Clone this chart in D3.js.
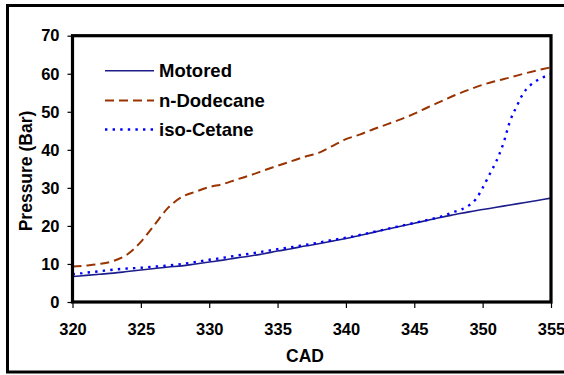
<!DOCTYPE html>
<html>
<head>
<meta charset="utf-8">
<script src="https://cdn.jsdelivr.net/npm/d3@7/dist/d3.min.js"></script>
<style>
  html, body { margin: 0; padding: 0; background: #fff; }
  svg { display: block; }
  text { font-family: "Liberation Sans", Arial, sans-serif; font-weight: bold; fill: #000; }
</style>
</head>
<body>
<svg id="chart" width="564" height="375"></svg>
<script>
// Crank angle (degrees) and cylinder pressure (bar)
const cad = [320,321,322,323,324,325,326,327,328,329,330,331,332,333,334,335,336,337,
             338,339,340,341,342,343,344,345,346,347,348,349,350,351,352,353,354,355];

const motored = [6.7,7.0,7.3,7.6,8.0,8.4,8.8,9.2,9.5,10.0,10.5,11.0,11.6,12.1,12.7,13.4,14.0,14.7,
                 15.3,16.0,16.7,17.5,18.3,19.1,19.9,20.7,21.5,22.3,23.0,23.7,24.3,24.9,25.5,26.1,26.7,27.3];

const nDodecane = [9.3,9.6,10.0,10.8,12.5,15.8,20.3,24.8,27.6,29.0,30.2,31.0,32.2,33.3,34.6,35.8,37.0,38.2,
                   39.2,41.0,42.8,44.0,45.4,46.7,48.0,49.5,51.2,52.8,54.4,55.8,57.1,58.1,59.0,60.0,60.9,61.7];

const isoCad = [320,321,322,323,324,325,326,327,328,329,330,331,332,333,334,335,336,337,338,339,
                340,341,342,343,344,345,346,347,348,348.5,349,349.5,350,350.5,351,351.5,352,352.5,
                353,353.5,354,354.5,355];
const isoCetane = [7.3,7.7,8.1,8.5,8.8,9.0,9.3,9.6,10.0,10.5,11.1,11.6,12.2,12.7,13.3,13.9,14.4,15.0,15.6,16.3,
                   16.9,17.6,18.4,19.2,20.0,20.8,21.6,22.5,23.8,24.4,25.4,27.0,30.0,33.5,37.0,41.5,47.5,51.5,
                   55.0,57.0,58.3,59.2,59.9];

const xTicks = [320,325,330,335,340,345,350,355];
const yTicks = [0,10,20,30,40,50,60,70];

const seriesNames = ["Motored", "n-Dodecane", "iso-Cetane"];

const series = [
  { name: seriesNames[0], x: cad, y: motored, color: "#1c1c8a", width: 1.6, dash: null },
  { name: seriesNames[1], x: cad, y: nDodecane, color: "#993300", width: 2, dash: "9,5" },
  { name: seriesNames[2], x: isoCad, y: isoCetane, color: "#0000ff", width: 2.4, dash: "2.4,5.2" }
];

const svg = d3.select("#chart");

// outer border of the chart object
svg.append("rect")
  .attr("x", 7.5).attr("y", 5.5)
  .attr("width", 620).attr("height", 366.5)
  .attr("fill", "none").attr("stroke", "#000").attr("stroke-width", 3);

const plot = { left: 72.5, right: 551, top: 35.7, bottom: 302 };

const x = d3.scaleLinear().domain([320, 355]).range([plot.left, plot.right]);
const y = d3.scaleLinear().domain([0, 70]).range([plot.bottom, plot.top]);

// axes
const xAxis = svg.append("g")
  .attr("transform", `translate(0,${plot.bottom})`)
  .call(d3.axisBottom(x).tickValues(xTicks).tickSize(6).tickPadding(15).tickFormat(d3.format("d")));
const yAxis = svg.append("g")
  .attr("transform", `translate(${plot.left},0)`)
  .call(d3.axisLeft(y).tickValues(yTicks).tickSize(5).tickPadding(8).tickFormat(d3.format("d")));

[xAxis, yAxis].forEach(g => {
  g.select(".domain").remove();
  g.selectAll(".tick line").attr("stroke", "#000").attr("stroke-width", 1.2);
  g.selectAll(".tick text")
    .style("font-size", "16.5px")
    .style("font-family", "'Liberation Sans', Arial, sans-serif")
    .style("font-weight", "bold")
    .attr("fill", "#000");
});

// data lines
const clipId = "plot-clip";
svg.append("clipPath").attr("id", clipId)
  .append("rect")
  .attr("x", plot.left).attr("y", plot.top - 10)
  .attr("width", plot.right - plot.left).attr("height", plot.bottom - plot.top + 10);

const lineGen = d3.line().curve(d3.curveMonotoneX).x(d => x(d[0])).y(d => y(d[1]));

svg.append("g").attr("clip-path", `url(#${clipId})`)
  .selectAll("path")
  .data(series)
  .join("path")
  .attr("d", s => lineGen(s.x.map((v, i) => [v, s.y[i]])))
  .attr("fill", "none")
  .attr("stroke", s => s.color)
  .attr("stroke-width", s => s.width)
  .attr("stroke-dasharray", s => s.dash);

// plot area frame
svg.append("rect")
  .attr("x", plot.left).attr("y", plot.top)
  .attr("width", plot.right - plot.left).attr("height", plot.bottom - plot.top)
  .attr("fill", "none").attr("stroke", "#000").attr("stroke-width", 3.2);

// legend
const legend = svg.append("g");
const legendY = [70.7, 100.5, 129.5];
series.forEach((s, i) => {
  legend.append("line")
    .attr("x1", 105).attr("x2", 154)
    .attr("y1", legendY[i]).attr("y2", legendY[i])
    .attr("stroke", s.color)
    .attr("stroke-width", s.width)
    .attr("stroke-dasharray", s.dash);
  legend.append("text")
    .attr("x", 159).attr("y", legendY[i])
    .attr("dy", "0.36em")
    .style("font-size", "18.5px")
    .text(s.name);
});

// axis titles
svg.append("text")
  .attr("x", 305).attr("y", 362)
  .attr("text-anchor", "middle")
  .style("font-size", "17.5px")
  .text("CAD");

svg.append("text")
  .attr("transform", "translate(32,171) rotate(-90)")
  .attr("text-anchor", "middle")
  .style("font-size", "17.5px")
  .text("Pressure (Bar)");
</script>
</body>
</html>
